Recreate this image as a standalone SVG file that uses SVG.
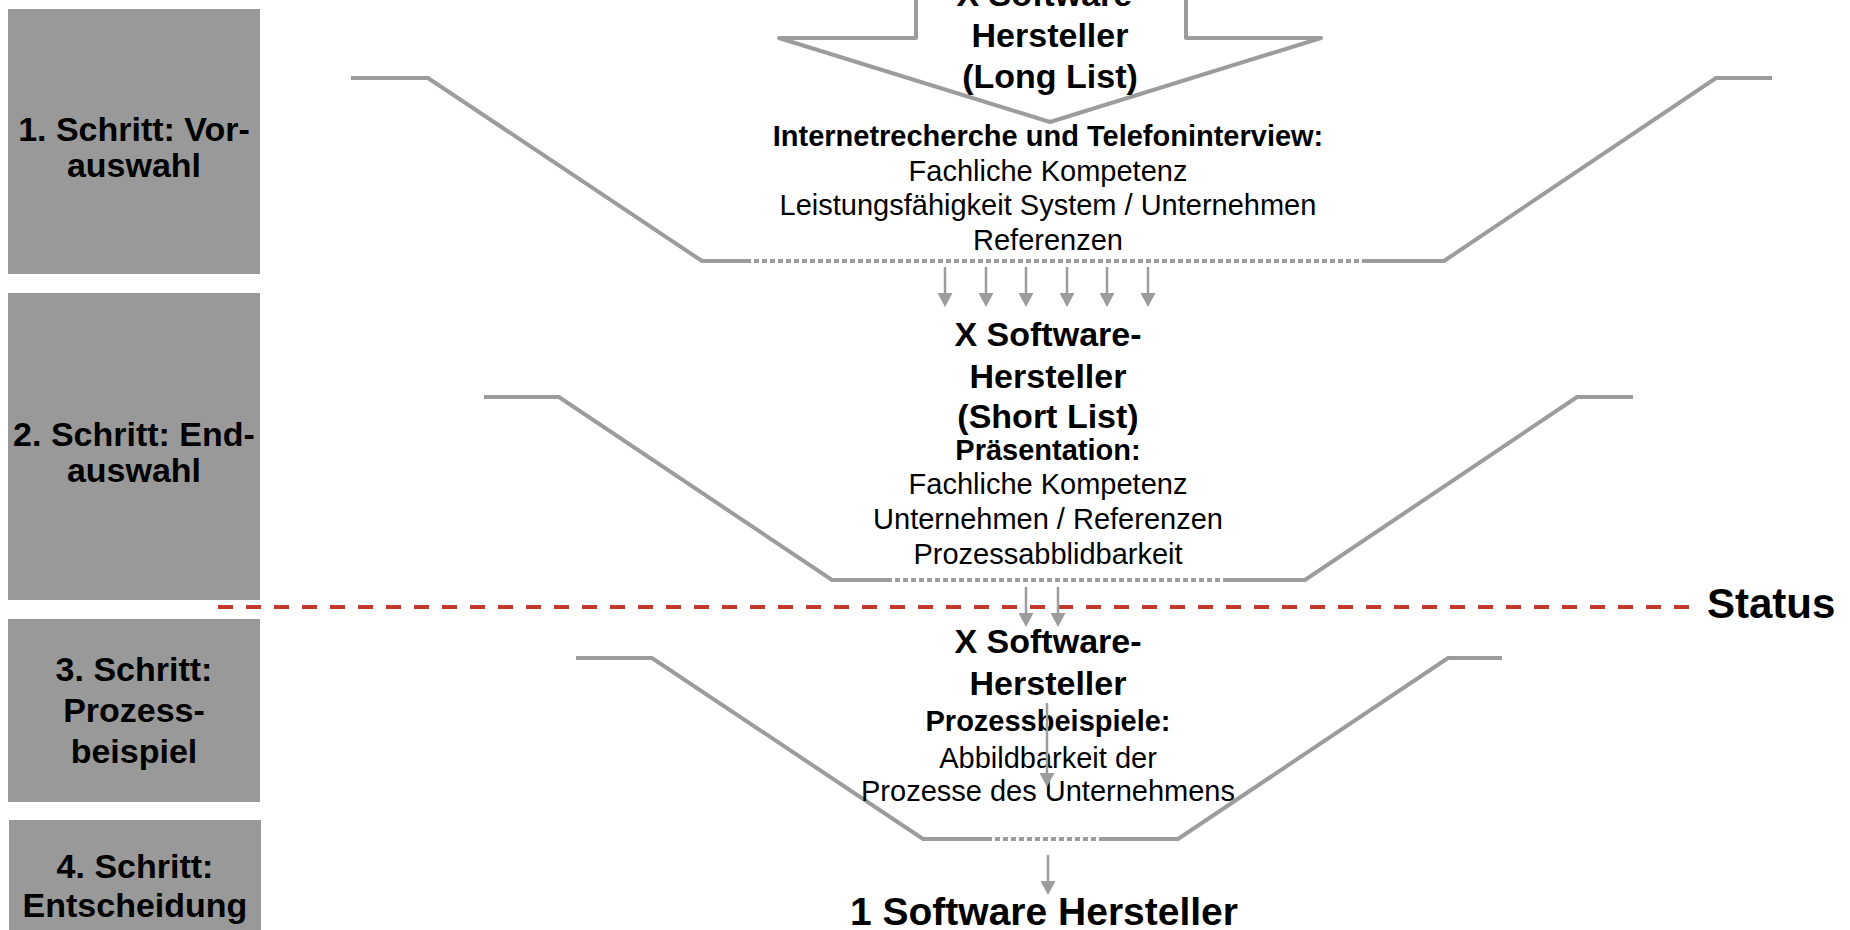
<svg xmlns="http://www.w3.org/2000/svg" width="1850" height="930" viewBox="0 0 1850 930">
<defs>
<style>
.box{fill:#999999}
.lbl{font-family:"Liberation Sans",Arial,sans-serif;font-weight:bold;font-size:34px;fill:#000;text-anchor:middle}
.fun{fill:none;stroke:#9c9c9c;stroke-width:4;stroke-linejoin:miter}
.dot{fill:none;stroke:#9c9c9c;stroke-width:4;stroke-dasharray:5 3}
.arr{fill:none;stroke:#9c9c9c;stroke-width:2.5;marker-end:url(#ah)}
.h{font-family:"Liberation Sans",Arial,sans-serif;font-weight:bold;font-size:34px;fill:#000;text-anchor:middle}
.sb{font-family:"Liberation Sans",Arial,sans-serif;font-weight:bold;font-size:29px;fill:#000;text-anchor:middle}
.sr{font-family:"Liberation Sans",Arial,sans-serif;font-weight:normal;font-size:29px;fill:#000;text-anchor:middle}
</style>
<marker id="ah" markerUnits="userSpaceOnUse" viewBox="0 0 14 15" markerWidth="14" markerHeight="15" refX="4" refY="7.5" orient="auto"><path d="M0,0 L14,7.5 L0,15 z" fill="#9c9c9c"/></marker>
</defs>
<rect width="1850" height="930" fill="#ffffff"/>

<g id="step1">
<rect class="box" x="8" y="9" width="252" height="265"/>
<text class="lbl" x="134" y="141">1. Schritt: Vor-</text>
<text class="lbl" x="134" y="177">auswahl</text>
</g>
<g id="step2">
<rect class="box" x="8" y="293" width="252" height="307"/>
<text class="lbl" x="134" y="446">2. Schritt: End-</text>
<text class="lbl" x="134" y="482">auswahl</text>
</g>
<g id="step3">
<rect class="box" x="8" y="619" width="252" height="183"/>
<text class="lbl" x="134" y="681">3. Schritt:</text>
<text class="lbl" x="134" y="722">Prozess-</text>
<text class="lbl" x="134" y="763">beispiel</text>
</g>
<g id="step4">
<rect class="box" x="9" y="820" width="252" height="115"/>
<text class="lbl" x="135" y="878">4. Schritt:</text>
<text class="lbl" x="135" y="917">Entscheidung</text>
</g>

<g id="longlist">
<polygon points="916,-10 916,38 779,38 1050,122 1321,38 1186,38 1186,-10" fill="#ffffff" stroke="#9c9c9c" stroke-width="4" stroke-linejoin="round"/>
<text class="h" x="1050" y="6">X Software-</text>
<text class="h" x="1050" y="47">Hersteller</text>
<text class="h" x="1050" y="88">(Long List)</text>
</g>

<g id="funnel1">
<path class="fun" d="M351,78 L428,78 L702,261 L746,261"/>
<path class="dot" d="M746,261 L1366,261"/>
<path class="fun" d="M1366,261 L1444,261 L1716,78 L1772,78"/>
<text class="sb" x="1048" y="146">Internetrecherche und Telefoninterview:</text>
<text class="sr" x="1048" y="181">Fachliche Kompetenz</text>
<text class="sr" x="1048" y="215">Leistungsfähigkeit System / Unternehmen</text>
<text class="sr" x="1048" y="250">Referenzen</text>
</g>

<g id="funnel2">
<path class="fun" d="M484,397 L559,397 L832,580 L887,580"/>
<path class="dot" d="M887,580 L1228,580"/>
<path class="fun" d="M1228,580 L1305,580 L1577,397 L1633,397"/>
<text class="h" x="1048" y="346">X Software-</text>
<text class="h" x="1048" y="388">Hersteller</text>
<text class="h" x="1048" y="428">(Short List)</text>
<text class="sb" x="1048" y="460">Präsentation:</text>
<text class="sr" x="1048" y="494">Fachliche Kompetenz</text>
<text class="sr" x="1048" y="529">Unternehmen / Referenzen</text>
<text class="sr" x="1048" y="564">Prozessabblidbarkeit</text>
</g>

<g id="status">
<path d="M218,607 L1689,607" fill="none" stroke="#c0392b" stroke-width="4" stroke-dasharray="15 13"/>
<text x="1707" y="618" font-family="'Liberation Sans',Arial,sans-serif" font-weight="bold" font-size="42" fill="#000">Status</text>
</g>

<g id="funnel3">
<path class="fun" d="M576,658 L652,658 L923,839 L987,839"/>
<path class="dot" d="M987,839 L1100,839"/>
<path class="fun" d="M1100,839 L1178,839 L1448,658 L1502,658"/>
<text class="h" x="1048" y="653">X Software-</text>
<text class="h" x="1048" y="695">Hersteller</text>
<text class="sb" x="1048" y="731">Prozessbeispiele:</text>
<text class="sr" x="1048" y="768">Abbildbarkeit der</text>
<text class="sr" x="1048" y="801">Prozesse des Unternehmens</text>
</g>

<g id="result">
<text x="1044" y="925" font-family="'Liberation Sans',Arial,sans-serif" font-weight="bold" font-size="39" fill="#000" text-anchor="middle">1 Software Hersteller</text>
</g>

<g id="connectors">
<line class="arr" x1="945" y1="267" x2="945" y2="297"/>
<line class="arr" x1="986" y1="267" x2="986" y2="297"/>
<line class="arr" x1="1026" y1="267" x2="1026" y2="297"/>
<line class="arr" x1="1067" y1="267" x2="1067" y2="297"/>
<line class="arr" x1="1107" y1="267" x2="1107" y2="297"/>
<line class="arr" x1="1148" y1="267" x2="1148" y2="297"/>
<line class="arr" x1="1026" y1="587" x2="1026" y2="617"/>
<line class="arr" x1="1058" y1="587" x2="1058" y2="617"/>
<line class="arr" x1="1047" y1="703" x2="1047" y2="777"/>
<line class="arr" x1="1048" y1="855" x2="1048" y2="885"/>
</g>
</svg>
